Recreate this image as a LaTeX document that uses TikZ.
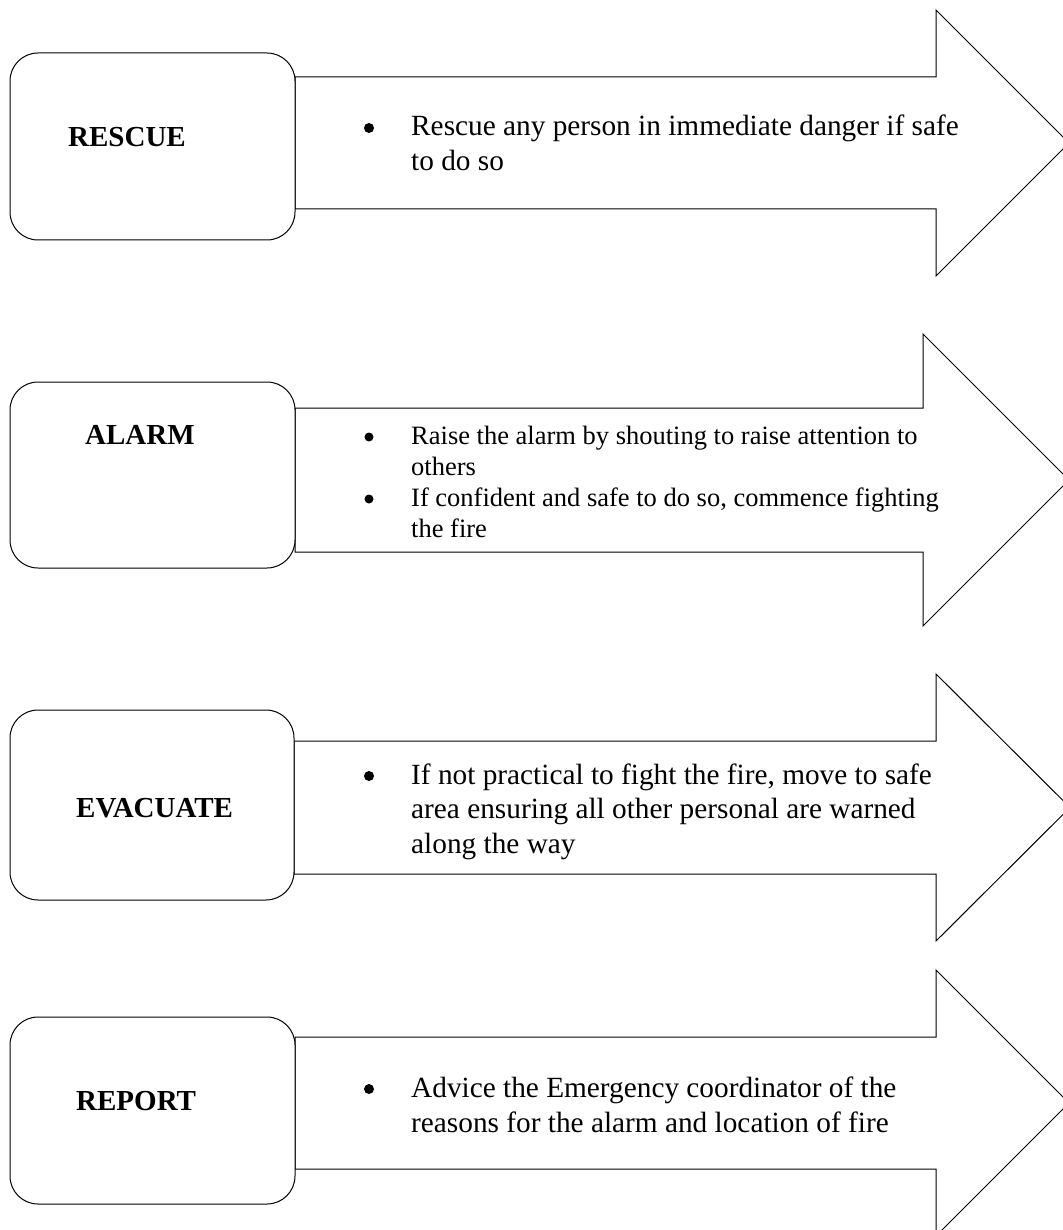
\documentclass[tikz,border=0pt]{standalone}
\usepackage{fontspec}
\setmainfont{Liberation Serif}
\tikzset{
  headbox/.style={draw, fill=white, rounded corners=28pt, line width=1pt},
  arrowshape/.style={draw, fill=white, line width=1pt, line join=miter},
  heading/.style={font=\fontsize{29}{34}\selectfont\bfseries, anchor=base west, inner sep=0pt},
  bodyline/.style={font=\fontsize{29.3}{35}\selectfont, anchor=base west, inner sep=0pt},
  smallline/.style={font=\fontsize{26.5}{31}\selectfont, anchor=base west, inner sep=0pt},
  bigbullet/.style={circle, fill=black, inner sep=0pt, minimum size=10pt},
  smallbullet/.style={circle, fill=black, inner sep=0pt, minimum size=9pt}
}
\begin{document}
\begin{tikzpicture}[x=1pt,y=-1pt]
\useasboundingbox (0,0) rectangle (1062,1230);
\fill[white] (0,0) rectangle (1062,1230);

% ---------- Row 1: RESCUE ----------
\draw[arrowshape] (295,77) -- (936,77) -- (936,10) -- (1069,143) -- (936,276) -- (936,209) -- (295,209) -- cycle;
\node[headbox, minimum width=285pt, minimum height=187pt] (rescuebox) at (152.5,146.5) {};
\node[heading] (rescue) at (68,147) {RESCUE};
\node[bigbullet] (b1) at (369,128) {};
\node[bodyline] (t1a) at (411,136) {Rescue any person in immediate danger if safe};
\node[bodyline] (t1b) at (411,171) {to do so};

% ---------- Row 2: ALARM ----------
\draw[arrowshape] (295,408) -- (923,408) -- (923,334) -- (1069,480) -- (923,626) -- (923,552) -- (295,552) -- cycle;
\node[headbox, minimum width=285pt, minimum height=186pt] (alarmbox) at (152.5,475) {};
\node[heading] (alarm) at (85,444) {ALARM};
\node[smallbullet] (b2a) at (369,437) {};
\node[smallline] (t2a) at (411,444) {Raise the alarm by shouting to raise attention to};
\node[smallline] (t2b) at (411,475) {others};
\node[smallbullet] (b2b) at (369,499) {};
\node[smallline] (t2c) at (411,506) {If confident and safe to do so, commence fighting};
\node[smallline] (t2d) at (411,537) {the fire};

% ---------- Row 3: EVACUATE ----------
\draw[arrowshape] (294,741) -- (936,741) -- (936,674) -- (1070,807.5) -- (936,941) -- (936,874) -- (294,874) -- cycle;
\node[headbox, minimum width=284pt, minimum height=190pt] (evacbox) at (152,805) {};
\node[heading] (evacuate) at (76,817) {EVACUATE};
\node[bigbullet] (b3) at (369,776) {};
\node[bodyline] (t3a) at (411,784) {If not practical to fight the fire, move to safe};
\node[bodyline] (t3b) at (411,818) {area ensuring all other personal are warned};
\node[bodyline] (t3c) at (411,853) {along the way};

% ---------- Row 4: REPORT ----------
\draw[arrowshape] (295,1037) -- (936,1037) -- (936,970) -- (1069,1103) -- (936,1236) -- (936,1169) -- (295,1169) -- cycle;
\node[headbox, minimum width=285pt, minimum height=187pt] (reportbox) at (152.5,1110.5) {};
\node[heading] (report) at (76,1110) {REPORT};
\node[bigbullet] (b4) at (369,1089) {};
\node[bodyline] (t4a) at (411,1097) {Advice the Emergency coordinator of the};
\node[bodyline] (t4b) at (411,1132) {reasons for the alarm and location of fire};
\end{tikzpicture}
\end{document}
